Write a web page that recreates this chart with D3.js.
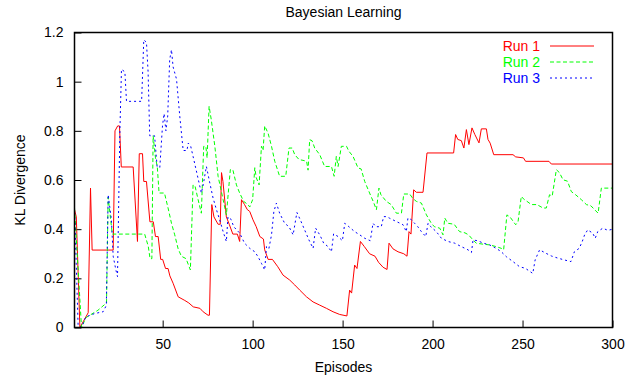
<!DOCTYPE html>
<html>
<head>
<meta charset="utf-8">
<script src="https://cdn.jsdelivr.net/npm/d3@7"></script>
<style>
  body { margin: 0; background: #fff; }
  text { font-family: "Liberation Sans", Arial, sans-serif; }
</style>
</head>
<body>
<svg id="chart"></svg>
<script>
// episodes / values (breakpoints of each run)
var run1Episodes = [1, 2, 4, 8.6, 9.9, 10.8, 22.5, 23.5, 25, 26, 27, 33.6, 36, 37, 38.8, 39.5, 41, 42.9, 44.8, 46, 47.5, 48.9, 50, 51.6, 53, 54, 55.8, 58.6, 62.3, 64.5, 67, 70.7, 72.5, 75.2, 76, 77.3, 78.5, 80.8, 82, 82.7, 83.5, 85.4, 87, 89, 91.5, 92.8, 93.8, 95.5, 97, 98.4, 100.2, 102, 104, 106, 106.7, 108.6, 111, 114, 116.9, 120.6, 123.4, 126.2, 129.9, 133.6, 137.3, 141, 144.7, 148.4, 152.4, 153.9, 155, 156.7, 158, 159.9, 162, 165, 168, 170, 172.5, 174.7, 175.8, 178, 180.8, 184, 185.8, 186.9, 188, 189.5, 191, 194.7, 196.9, 211.7, 212.8, 214, 216, 217.4, 218.8, 220.2, 221.9, 223.5, 225.8, 227.1, 229.9, 230.8, 232, 234, 244.7, 246.2, 250.5, 251.7, 264.7, 266, 300];
var run1Values = [0.48, 0.45, 0, 0.06, 0.567, 0.315, 0.315, 0.8, 0.82, 0.82, 0.653, 0.653, 0.35, 0.707, 0.707, 0.594, 0.594, 0.43, 0.43, 0.37, 0.37, 0.277, 0.277, 0.24, 0.24, 0.21, 0.18, 0.125, 0.11, 0.1, 0.084, 0.078, 0.064, 0.05, 0.05, 0.5, 0.45, 0.42, 0.42, 0.63, 0.594, 0.45, 0.42, 0.38, 0.38, 0.35, 0.52, 0.5, 0.48, 0.472, 0.438, 0.41, 0.37, 0.36, 0.316, 0.277, 0.277, 0.247, 0.213, 0.193, 0.173, 0.152, 0.125, 0.104, 0.091, 0.078, 0.064, 0.053, 0.047, 0.152, 0.14, 0.254, 0.24, 0.35, 0.33, 0.3, 0.29, 0.265, 0.245, 0.236, 0.343, 0.32, 0.308, 0.3, 0.29, 0.39, 0.38, 0.56, 0.55, 0.55, 0.71, 0.71, 0.785, 0.765, 0.76, 0.73, 0.805, 0.744, 0.812, 0.785, 0.751, 0.808, 0.808, 0.765, 0.75, 0.703, 0.703, 0.694, 0.69, 0.676, 0.676, 0.665, 0.665];

var run2Episodes = [1, 4.9, 7.3, 14, 18.8, 19.7, 22, 40, 42, 43, 44, 44.7, 46, 47, 48, 51, 53, 54.9, 56.7, 58.6, 60.4, 63, 65.4, 66.9, 68, 69.7, 71.5, 72.8, 74, 74.7, 75.8, 77, 79, 80.8, 83.6, 85.4, 87.6, 89, 91, 92.8, 95, 97.4, 98.4, 100, 101.2, 102, 103.6, 104.9, 105.8, 106.7, 108.6, 110.5, 112.3, 115, 118.4, 120.2, 122, 123.4, 125.8, 128, 130, 130.8, 131.7, 133, 134.5, 137.3, 140, 143.8, 145.3, 146.5, 147.5, 149.3, 152.2, 153.5, 155.8, 158.6, 160.3, 162.3, 165, 167, 168.8, 170.2, 171.3, 174.3, 177, 179.9, 182.7, 184, 187.3, 189, 191, 193.8, 196.6, 199.3, 201, 204, 205.8, 206.8, 208.5, 212, 215, 218, 220, 222.5, 224.3, 228, 231.7, 235.4, 238.2, 239.5, 241.3, 243, 246.2, 247.5, 249.3, 251, 252.5, 254.9, 258, 261.4, 263.2, 265, 266.5, 268.8, 270.5, 272.5, 275, 277.1, 279.5, 282.7, 285.5, 288, 290.1, 292, 293.8, 300];
var run2Values = [0.487, 0, 0.04, 0.07, 0.1, 0.53, 0.38, 0.38, 0.33, 0.28, 0.28, 0.78, 0.69, 0.655, 0.547, 0.547, 0.486, 0.424, 0.377, 0.32, 0.29, 0.28, 0.234, 0.58, 0.575, 0.52, 0.465, 0.737, 0.737, 0.69, 0.9, 0.846, 0.737, 0.615, 0.52, 0.458, 0.642, 0.642, 0.58, 0.547, 0.513, 0.5, 0.49, 0.52, 0.65, 0.61, 0.58, 0.737, 0.72, 0.82, 0.79, 0.737, 0.676, 0.615, 0.615, 0.73, 0.73, 0.703, 0.683, 0.68, 0.676, 0.64, 0.764, 0.76, 0.73, 0.703, 0.655, 0.655, 0.615, 0.696, 0.655, 0.737, 0.737, 0.717, 0.696, 0.649, 0.645, 0.594, 0.547, 0.513, 0.479, 0.567, 0.54, 0.513, 0.5, 0.465, 0.465, 0.543, 0.543, 0.525, 0.513, 0.506, 0.458, 0.424, 0.41, 0.404, 0.377, 0.445, 0.424, 0.42, 0.39, 0.385, 0.377, 0.356, 0.343, 0.339, 0.336, 0.329, 0.322, 0.316, 0.458, 0.45, 0.418, 0.43, 0.533, 0.52, 0.513, 0.5, 0.5, 0.486, 0.486, 0.54, 0.535, 0.642, 0.63, 0.601, 0.595, 0.553, 0.54, 0.52, 0.5, 0.495, 0.479, 0.465, 0.567, 0.567];

var run3Episodes = [1, 3, 4.9, 7.3, 12.3, 16.9, 18.7, 19.7, 21.5, 22.5, 24, 24.9, 26.2, 27.1, 29, 29.9, 38.3, 39.5, 41, 41.9, 42.8, 45.5, 46.9, 48.4, 49.9, 50.8, 51.8, 52.8, 53.9, 54.9, 55.8, 57.7, 59.5, 61.4, 63.5, 64.2, 65.5, 66.9, 69, 71.5, 72.5, 74.3, 76.2, 78, 79.9, 81.7, 83.6, 85.4, 86.3, 88, 89.5, 92.8, 95.5, 98.4, 101.2, 103, 104.9, 106.7, 107.7, 109, 110.5, 111.8, 113.2, 115, 117.8, 120.2, 122.5, 124.6, 126.5, 128.9, 131.3, 133.6, 135, 137.3, 139.5, 141.9, 143.8, 145, 147.5, 149.9, 151.2, 153.5, 156.7, 159.5, 162.3, 165.4, 166.9, 168.5, 171.5, 172.8, 174.5, 176, 179.9, 183.6, 185.4, 186.3, 188, 190, 191.8, 193.8, 196.2, 197.5, 199, 202.1, 204.9, 208.5, 212.3, 216, 219.7, 221.6, 222.5, 225, 228.3, 231.7, 235.4, 238.2, 241, 244.7, 248.4, 251.5, 254.3, 255.7, 257, 259.5, 263, 266, 269.7, 273.2, 276.9, 278.8, 281.5, 283.2, 284.5, 286.2, 289, 290.4, 291.8, 294.6, 297.5, 300];
var run3Values = [0.487, 0.01, 0, 0.043, 0.057, 0.064, 0.09, 0.54, 0.44, 0.29, 0.234, 0.207, 0.79, 1.05, 1.04, 0.92, 0.92, 1.17, 1.16, 1.04, 0.78, 0.78, 0.655, 0.65, 0.82, 0.87, 0.8, 0.86, 1.09, 1.13, 1.06, 1.01, 0.86, 0.72, 0.72, 0.75, 0.74, 0.696, 0.628, 0.547, 0.58, 0.655, 0.588, 0.527, 0.479, 0.438, 0.39, 0.35, 0.45, 0.44, 0.41, 0.384, 0.343, 0.322, 0.308, 0.288, 0.261, 0.234, 0.329, 0.32, 0.377, 0.472, 0.506, 0.465, 0.424, 0.41, 0.377, 0.468, 0.438, 0.397, 0.356, 0.322, 0.404, 0.377, 0.343, 0.329, 0.308, 0.381, 0.37, 0.353, 0.424, 0.41, 0.39, 0.377, 0.363, 0.353, 0.424, 0.41, 0.41, 0.451, 0.451, 0.445, 0.431, 0.418, 0.39, 0.445, 0.44, 0.424, 0.41, 0.39, 0.37, 0.424, 0.41, 0.39, 0.363, 0.35, 0.343, 0.329, 0.316, 0.305, 0.356, 0.353, 0.343, 0.336, 0.322, 0.308, 0.288, 0.268, 0.247, 0.241, 0.227, 0.22, 0.275, 0.316, 0.302, 0.291, 0.282, 0.275, 0.268, 0.308, 0.322, 0.35, 0.377, 0.397, 0.384, 0.363, 0.39, 0.404, 0.395, 0.4];

var seriesNames = ["Run 1", "Run 2", "Run 3"];
var seriesColors = ["#ff0000", "#00ff00", "#0000ff"];
var seriesDash = [null, "4,2.5", "2,3"];
var xTicks = [50, 100, 150, 200, 250, 300];
var yTicks = [0, 0.2, 0.4, 0.6, 0.8, 1, 1.2];

var runs = [
  { name: seriesNames[0], eps: run1Episodes, vals: run1Values },
  { name: seriesNames[1], eps: run2Episodes, vals: run2Values },
  { name: seriesNames[2], eps: run3Episodes, vals: run3Values }
];

// set the dimensions and margins of the graph
var margin = {top: 32.5, right: 20.5, bottom: 54.5, left: 74.5},
    width = 633 - margin.left - margin.right,
    height = 382 - margin.top - margin.bottom;

var root = d3.select("#chart")
    .attr("width", 633)
    .attr("height", 382);

var svg = root.append("g")
    .attr("transform", "translate(" + margin.left + "," + margin.top + ")");

var x = d3.scaleLinear().domain([1, 300]).range([0, width]);
var y = d3.scaleLinear().domain([0, 1.2]).range([height, 0]);

// X axis (ticks pointing inward)
var xAxis = svg.append("g")
    .attr("transform", "translate(0," + height + ")")
    .call(d3.axisBottom(x).tickValues(xTicks).tickSizeInner(-7).tickSizeOuter(0).tickPadding(12));
xAxis.select(".domain").remove();
xAxis.selectAll("text").attr("font-size", 14).attr("font-family", "Liberation Sans, Arial").attr("fill", "#000");
xAxis.selectAll("line").attr("stroke", "#000");

// Y axis
var yAxis = svg.append("g")
    .call(d3.axisLeft(y).tickValues(yTicks).tickFormat(d3.format("~g")).tickSizeInner(-7).tickSizeOuter(0).tickPadding(11));
yAxis.select(".domain").remove();
yAxis.selectAll("text").attr("font-size", 14).attr("font-family", "Liberation Sans, Arial").attr("fill", "#000");
yAxis.selectAll("line").attr("stroke", "#000");

// lines
var line = d3.line()
    .x(function(d) { return x(d[0]); })
    .y(function(d) { return y(d[1]); });

runs.forEach(function(r, i) {
  var pts = r.eps.map(function(e, j) { return [e, r.vals[j]]; });
  svg.append("path")
      .datum(pts)
      .attr("fill", "none")
      .attr("stroke", seriesColors[i])
      .attr("stroke-width", 1)
      .attr("stroke-dasharray", seriesDash[i])
      .attr("d", line);
});

// frame
svg.append("rect")
    .attr("width", width)
    .attr("height", height)
    .attr("fill", "none")
    .attr("stroke", "#000")
    .attr("stroke-width", 1.5);

// legend
var legend = svg.append("g")
    .attr("transform", "translate(" + (540 - margin.left) + "," + (46 - margin.top) + ")");
runs.forEach(function(r, i) {
  legend.append("text")
      .attr("x", 0)
      .attr("y", i * 16)
      .attr("dy", "0.35em")
      .attr("text-anchor", "end")
      .attr("font-size", 14)
      .attr("fill", seriesColors[i])
      .text(r.name);
  legend.append("line")
      .attr("x1", 10).attr("x2", 54)
      .attr("y1", i * 16).attr("y2", i * 16)
      .attr("stroke", seriesColors[i])
      .attr("stroke-width", 1)
      .attr("stroke-dasharray", seriesDash[i]);
});

// titles
root.append("text")
    .attr("x", margin.left + width / 2)
    .attr("y", 17)
    .attr("text-anchor", "middle")
    .attr("font-size", 14)
    .text("Bayesian Learning");

root.append("text")
    .attr("x", margin.left + width / 2)
    .attr("y", 372)
    .attr("text-anchor", "middle")
    .attr("font-size", 14)
    .text("Episodes");

root.append("text")
    .attr("transform", "translate(25," + (margin.top + height / 2) + ")rotate(-90)")
    .attr("text-anchor", "middle")
    .attr("font-size", 14)
    .text("KL Divergence");
</script>
</body>
</html>
